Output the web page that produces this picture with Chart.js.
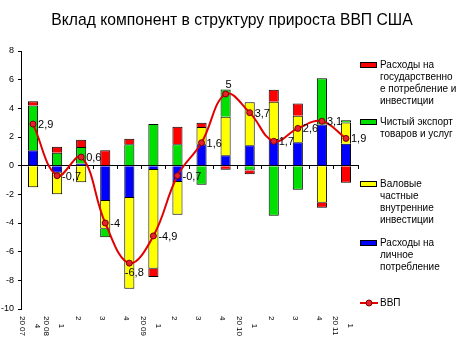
<!DOCTYPE html>
<html>
<head>
<meta charset="utf-8">
<script src="https://cdn.jsdelivr.net/npm/chart.js@4.4.1/dist/chart.umd.min.js"></script>
<style>
  html, body { margin: 0; padding: 0; background: #fff; }
  #chart { display: block; }
</style>
</head>
<body>
<canvas id="chart" width="464" height="357"></canvas>
<script>
// Chart data
const quarters = ['4', '1', '2', '3', '4', '1', '2', '3', '4', '1', '2', '3', '4', '1'];
const years = ['20 07', '20 08', '', '', '', '20 09', '', '', '', '20 10', '', '', '', '20 11'];

const personal   = [1.07, -0.5, 0.15, -2.47, -2.26, -0.3, -1.14, 1.5, 0.72, 1.42, 1.86, 1.63, 2.88, 1.53];
const investment = [-1.5, -1.5, -1.15, -1.93, -6.32, -6.89, -2.28, 1.2, 2.7, 3.0, 2.6, 1.86, -2.58, 1.49];
const netExports = [3.13, 0.9, 1.15, -0.6, 1.5, 2.9, 1.5, -1.33, 1.9, -0.33, -3.49, -1.68, 3.22, 0.14];
const government = [0.29, 0.42, 0.5, 1.07, 0.38, -0.58, 1.22, 0.3, -0.28, -0.27, 0.84, 0.84, -0.35, -1.19];
const gdp        = [2.9, -0.7, 0.6, -4, -6.8, -4.9, -0.7, 1.6, 5, 3.7, 1.7, 2.6, 3.1, 1.9];

const yTicks = [-10, -8, -6, -4, -2, 0, 2, 4, 6, 8];

const FONT = 'Arial, "Liberation Sans", sans-serif';

// legend item tops (red, green, yellow, blue, line)
const legendTop = [65, 122, 184, 243, 303];

// Title, x labels, data labels and legend
const extras = {
    id: 'extras',
    afterDatasetsDraw(chart) {
        const ctx = chart.ctx;
        const meta = chart.getDatasetMeta(0);
        const vals = chart.data.datasets[0].data;
        const maxI = vals.indexOf(Math.max(...vals));
        const minI = vals.indexOf(Math.min(...vals));
        ctx.save();
        ctx.font = '11px ' + FONT;
        ctx.fillStyle = '#000';
        meta.data.forEach((pt, i) => {
            const txt = String(vals[i]).replace('.', ',');
            if (i === maxI) {
                ctx.textAlign = 'center'; ctx.textBaseline = 'middle';
                ctx.fillText(txt, pt.x + 3, pt.y - 9);
            } else if (i === minI) {
                ctx.textAlign = 'center'; ctx.textBaseline = 'middle';
                ctx.fillText(txt, pt.x + 5, pt.y + 10);
            } else {
                ctx.textAlign = 'left'; ctx.textBaseline = 'middle';
                ctx.fillText(txt, pt.x + 5, pt.y + 1);
            }
        });
        ctx.restore();
    },
    afterDraw(chart) {
        const ctx = chart.ctx;
        ctx.save();

        // title
        ctx.fillStyle = '#000';
        ctx.font = '15.7px ' + FONT;
        ctx.textAlign = 'center';
        ctx.textBaseline = 'alphabetic';
        ctx.fillText('Вклад компонент в структуру прироста ВВП США', 232, 25);

        // x labels, rotated clockwise
        const xs = chart.scales.x;
        const top = chart.chartArea.bottom + 7;
        ctx.font = '8px ' + FONT;
        ctx.textBaseline = 'middle';
        ctx.textAlign = 'center';
        quarters.forEach((q, i) => {
            const cx = xs.getPixelForValue(i);
            ctx.save();
            ctx.translate(cx, top);
            ctx.rotate(Math.PI / 2);
            if (years[i]) {
                const len = ctx.measureText(years[i]).width;
                ctx.fillText(years[i], len / 2, 10.5);
                ctx.fillText(q, len / 2, -4.5);
            } else {
                const len = ctx.measureText(q).width;
                ctx.fillText(q, len / 2, 3);
            }
            ctx.restore();
        });

        // legend
        const sets = chart.data.datasets;
        const order = [4, 3, 2, 1, 0];
        ctx.font = '10px ' + FONT;
        ctx.textAlign = 'left';
        ctx.textBaseline = 'middle';
        order.forEach((di, k) => {
            const ds = sets[di];
            const y0 = legendTop[k];
            if (ds.type === 'line') {
                ctx.strokeStyle = ds.borderColor;
                ctx.lineWidth = 2;
                ctx.beginPath();
                ctx.moveTo(360, y0);
                ctx.lineTo(378, y0);
                ctx.stroke();
                ctx.beginPath();
                ctx.arc(369, y0, 3, 0, Math.PI * 2);
                ctx.fillStyle = ds.pointBackgroundColor;
                ctx.fill();
                ctx.lineWidth = 1;
                ctx.strokeStyle = ds.pointBorderColor;
                ctx.stroke();
            } else {
                ctx.fillStyle = ds.backgroundColor;
                ctx.fillRect(360.5, y0 - 2.5, 16, 5);
                ctx.strokeStyle = '#000';
                ctx.lineWidth = 1;
                ctx.strokeRect(360.5, y0 - 2.5, 16, 5);
            }
            ctx.fillStyle = '#000';
            ds.legendText.forEach((line, j) => {
                ctx.fillText(line, 380, y0 + j * 12);
            });
        });

        ctx.restore();
    }
};

const barStyle = {
    borderColor: '#000',
    borderWidth: 1,
    barPercentage: 0.42,
    categoryPercentage: 1
};

new Chart(document.getElementById('chart'), {
    type: 'bar',
    data: {
        labels: quarters.map((q, i) => (years[i] ? years[i] + ' ' : '') + q),
        datasets: [
            {
                type: 'line',
                label: 'ВВП',
                legendText: ['ВВП'],
                data: gdp,
                borderColor: '#E00000',
                borderWidth: 2,
                tension: 0.4,
                pointRadius: 3,
                pointBackgroundColor: '#E8202C',
                pointBorderColor: '#7A0000',
                pointBorderWidth: 1,
                fill: false
            },
            Object.assign({
                label: 'Расходы на личное потребление',
                legendText: ['Расходы на', 'личное', 'потребление'],
                data: personal,
                backgroundColor: '#0000FF'
            }, barStyle),
            Object.assign({
                label: 'Валовые частные внутренние инвестиции',
                legendText: ['Валовые', 'частные', 'внутренние', 'инвестиции'],
                data: investment,
                backgroundColor: '#FFFF00'
            }, barStyle),
            Object.assign({
                label: 'Чистый экспорт товаров и услуг',
                legendText: ['Чистый экспорт', 'товаров и услуг'],
                data: netExports,
                backgroundColor: '#00E000'
            }, barStyle),
            Object.assign({
                label: 'Расходы на государственное потребление и инвестиции',
                legendText: ['Расходы на', 'государственно', 'е потребление и', 'инвестиции'],
                data: government,
                backgroundColor: '#FF0000'
            }, barStyle)
        ]
    },
    options: {
        responsive: false,
        animation: false,
        devicePixelRatio: 1,
        layout: { padding: { top: 51, bottom: 48, left: 0, right: 106 } },
        plugins: {
            legend: { display: false },
            title: { display: false },
            tooltip: { enabled: false }
        },
        scales: {
            x: {
                stacked: true,
                position: { y: 0 },
                ticks: { display: false },
                grid: {
                    display: true,
                    offset: true,
                    drawOnChartArea: false,
                    drawTicks: true,
                    tickLength: 3,
                    color: '#000'
                },
                border: { display: true, color: '#000', width: 1 }
            },
            y: {
                stacked: true,
                min: -10,
                max: 8,
                afterBuildTicks: s => { s.ticks = yTicks.map(v => ({ value: v })); },
                afterFit: s => { s.width = 21; },
                ticks: {
                    color: '#000',
                    font: { family: FONT, size: 9 },
                    padding: 4
                },
                grid: {
                    drawOnChartArea: false,
                    drawTicks: true,
                    tickLength: 3,
                    color: '#000'
                },
                border: { display: true, color: '#000', width: 1 }
            }
        }
    },
    plugins: [extras]
});
</script>
</body>
</html>
